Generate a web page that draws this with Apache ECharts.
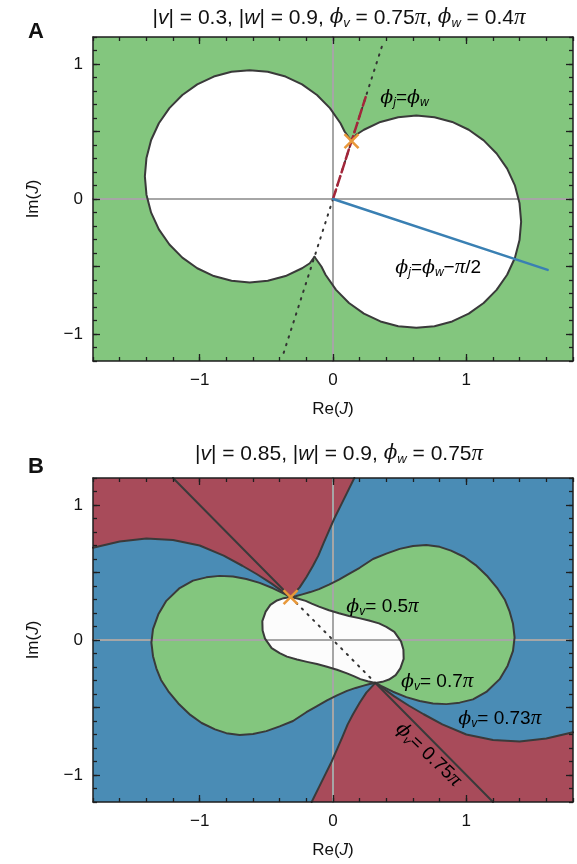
<!DOCTYPE html>
<html><head><meta charset="utf-8">
<script src="https://cdn.jsdelivr.net/npm/echarts@6/dist/echarts.min.js"></script>
<style>html,body{margin:0;padding:0;background:#fff}#c{width:577px;height:864px}</style>
</head><body><div id="c"></div>
<script>
// ---------- tick values ----------
const xMajor = [-1, 0, 1];
const xLabels = [-1, 0, 1];
const yMajor = [-1, -0.5, 0, 0.5, 1];
const yLabels = [-1, 0, 1];

// ---------- Panel A : white region = two lobes ----------
const aLeftLobe = [[0.139,0.428],[0.087,0.500],[0.056,0.561],[-0.023,0.673],[-0.120,0.770],[-0.232,0.849],[-0.356,0.907],[-0.489,0.942],[-0.625,0.954],[-0.761,0.942],[-0.894,0.907],[-1.018,0.849],[-1.130,0.770],[-1.227,0.673],[-1.306,0.561],[-1.364,0.437],[-1.399,0.304],[-1.411,0.168],[-1.399,0.032],[-1.364,-0.101],[-1.306,-0.225],[-1.227,-0.337],[-1.130,-0.434],[-1.018,-0.513],[-0.894,-0.571],[-0.761,-0.606],[-0.625,-0.618],[-0.489,-0.606],[-0.356,-0.571],[-0.232,-0.513],[-0.174,-0.476],[-0.139,-0.428]];
const aRightLobe = [[-0.139,-0.428],[-0.087,-0.500],[-0.056,-0.561],[0.023,-0.673],[0.120,-0.770],[0.232,-0.849],[0.356,-0.907],[0.489,-0.942],[0.625,-0.954],[0.761,-0.942],[0.894,-0.907],[1.018,-0.849],[1.130,-0.770],[1.227,-0.673],[1.306,-0.561],[1.364,-0.437],[1.399,-0.304],[1.411,-0.168],[1.399,-0.032],[1.364,0.101],[1.306,0.225],[1.227,0.337],[1.130,0.434],[1.018,0.513],[0.894,0.571],[0.761,0.606],[0.625,0.618],[0.489,0.606],[0.356,0.571],[0.232,0.513],[0.174,0.476],[0.139,0.428]];
const aCusp = [[0.139,0.428]];
const aDotted = [[-0.37,-1.14],[0.37,1.14]];
const aRedDash = [[0,0],[0.245,0.755]];
const aBlue = [[0,0],[1.61,-0.525]];

// ---------- Panel B ----------
const b73Left = [[-1.8,0.684],[-1.6,0.73],[-1.4,0.752],[-1.2,0.74],[-1.0,0.70],[-0.82,0.625],[-0.68,0.55],[-0.57,0.487],[-0.46,0.418],[-0.38,0.36],[-0.318,0.318]];
const b73Up = [[-0.318,0.318],[-0.25,0.39],[-0.2,0.465],[-0.15,0.55],[-0.11,0.625],[-0.07,0.72],[-0.03,0.81],[0.01,0.9],[0.055,0.99],[0.105,1.09],[0.16,1.2]];
const b73Right = [[1.8,-0.684],[1.6,-0.73],[1.4,-0.752],[1.2,-0.74],[1.0,-0.70],[0.82,-0.625],[0.68,-0.55],[0.57,-0.487],[0.46,-0.418],[0.38,-0.36],[0.318,-0.318]];
const b73Down = [[0.318,-0.318],[0.25,-0.39],[0.2,-0.465],[0.15,-0.55],[0.11,-0.625],[0.07,-0.72],[0.03,-0.81],[-0.01,-0.9],[-0.055,-0.99],[-0.105,-1.09],[-0.16,-1.2]];
const b70Left = [[-0.318,0.318],[-0.36,0.34],[-0.45,0.383],[-0.55,0.423],[-0.65,0.452],[-0.75,0.47],[-0.85,0.475],[-0.95,0.464],[-1.05,0.44],[-1.15,0.385],[-1.25,0.29],[-1.31,0.19],[-1.35,0.08],[-1.362,-0.02],[-1.35,-0.12],[-1.325,-0.21],[-1.29,-0.296],[-1.235,-0.38],[-1.16,-0.47],[-1.07,-0.555],[-0.985,-0.615],[-0.885,-0.662],[-0.8,-0.69],[-0.7,-0.703],[-0.6,-0.697],[-0.5,-0.675],[-0.4,-0.64],[-0.3,-0.6],[-0.2,-0.535],[-0.12,-0.49],[-0.045,-0.447],[0.03,-0.41],[0.105,-0.377],[0.17,-0.355],[0.23,-0.338],[0.275,-0.326],[0.318,-0.318]];
const b70Right = [[0.318,-0.318],[0.36,-0.34],[0.45,-0.383],[0.55,-0.423],[0.65,-0.452],[0.75,-0.47],[0.85,-0.475],[0.95,-0.464],[1.05,-0.44],[1.15,-0.385],[1.25,-0.29],[1.31,-0.19],[1.35,-0.08],[1.362,0.02],[1.35,0.12],[1.325,0.21],[1.29,0.296],[1.235,0.38],[1.16,0.47],[1.07,0.555],[0.985,0.615],[0.885,0.662],[0.8,0.69],[0.7,0.703],[0.6,0.697],[0.5,0.675],[0.4,0.64],[0.3,0.6],[0.2,0.535],[0.12,0.49],[0.045,0.447],[-0.03,0.41],[-0.105,0.377],[-0.17,0.355],[-0.23,0.338],[-0.275,0.326],[-0.318,0.318]];
const b50Left = [[-0.318,0.318],[-0.37,0.31],[-0.42,0.293],[-0.47,0.26],[-0.505,0.21],[-0.53,0.14],[-0.528,0.07],[-0.51,0.01],[-0.46,-0.06],[-0.40,-0.097],[-0.345,-0.123],[-0.27,-0.145],[-0.195,-0.162],[-0.12,-0.178],[-0.045,-0.198],[0.03,-0.22],[0.105,-0.247],[0.16,-0.27],[0.205,-0.29],[0.26,-0.305],[0.318,-0.318]];
const b50Right = [[0.318,-0.318],[0.37,-0.31],[0.42,-0.293],[0.47,-0.26],[0.505,-0.21],[0.53,-0.14],[0.528,-0.07],[0.51,-0.01],[0.46,0.06],[0.40,0.097],[0.345,0.123],[0.27,0.145],[0.195,0.162],[0.12,0.178],[0.045,0.198],[-0.03,0.22],[-0.105,0.247],[-0.16,0.27],[-0.205,0.29],[-0.26,0.305],[-0.318,0.318]];
const b75UpLine = [[-1.2,1.2],[-0.318,0.318]];
const b75DownLine = [[0.318,-0.318],[1.2,-1.2]];
const bDotted = [[-0.318,0.318],[0.318,-0.318]];
const bCusp = [[-0.318,0.318]];

// ---------- styles ----------
const FONT = 'Liberation Sans, Arial, sans-serif';
const GREEN = '#83c67e', RED = '#a84b5a', BLUE = '#4a8cb5', EDGE = '#3a3a3a', AXC = '#1e1e1e';
const W = 'normal';
const RICH = {
  n: {fontFamily: FONT, fontSize: 21, fontWeight: W, color: '#111'},
  i: {fontFamily: FONT, fontStyle: 'italic', fontWeight: W, fontSize: 21, color: '#111'},
  g: {fontFamily: 'DejaVu Serif', fontStyle: 'italic', fontWeight: W, fontSize: 20, color: '#111'},
  p: {fontFamily: 'Liberation Serif', fontStyle: 'italic', fontWeight: W, fontSize: 23, color: '#111'},
  s: {fontFamily: FONT, fontStyle: 'italic', fontWeight: W, fontSize: 13, color: '#111', padding: [11, 0, 0, 0]},
  N: {fontFamily: FONT, fontSize: 19, fontWeight: W, color: '#111'},
  G: {fontFamily: 'DejaVu Serif', fontStyle: 'italic', fontWeight: W, fontSize: 19, color: '#111'},
  P: {fontFamily: 'Liberation Serif', fontStyle: 'italic', fontWeight: W, fontSize: 21, color: '#111'},
  S: {fontFamily: FONT, fontStyle: 'italic', fontWeight: W, fontSize: 12, color: '#111', padding: [10, 0, 0, 0]},
  I: {fontFamily: FONT, fontStyle: 'italic', fontWeight: W, fontSize: 17, color: '#111'},
  L: {fontFamily: FONT, fontSize: 17, fontWeight: W, color: '#111'}
};
const fmt = v => (v < 0 ? '\u2212' + (-v) : String(v));
const tickStyle = {color: AXC, width: 1.3};
const hideLine = {show: false, onZero: false};

function xAxes(g, name) {
  const base = {type: 'value', gridIndex: g, min: -1.8, max: 1.8, splitLine: {show: false}, z: 10};
  return [
    Object.assign({}, base, {position: 'bottom',
      axisLine: {show: true, onZero: false, lineStyle: {color: AXC, width: 1.5}},
      axisTick: {show: true, inside: true, length: 7, customValues: xMajor, lineStyle: tickStyle},
      axisLabel: {show: true, customValues: xLabels, formatter: fmt, fontSize: 17, color: '#111', fontFamily: FONT, margin: 11},
      name: name, nameLocation: 'middle', nameGap: 40, nameTextStyle: {rich: RICH}}),
    Object.assign({}, base, {position: 'bottom', interval: 0.2,
      axisLine: hideLine, axisTick: {show: true, inside: true, length: 4, lineStyle: tickStyle}, axisLabel: {show: false}}),
    Object.assign({}, base, {position: 'top',
      axisLine: {show: true, onZero: false, lineStyle: {color: AXC, width: 1.5}},
      axisTick: {show: true, inside: true, length: 7, customValues: xMajor, lineStyle: tickStyle}, axisLabel: {show: false}}),
    Object.assign({}, base, {position: 'top', interval: 0.2,
      axisLine: hideLine, axisTick: {show: true, inside: true, length: 4, lineStyle: tickStyle}, axisLabel: {show: false}})
  ];
}
function yAxes(g, name) {
  const base = {type: 'value', gridIndex: g, min: -1.2, max: 1.2, splitLine: {show: false}, z: 10};
  return [
    Object.assign({}, base, {position: 'left',
      axisLine: {show: true, onZero: false, lineStyle: {color: AXC, width: 1.5}},
      axisTick: {show: true, inside: true, length: 7, customValues: yMajor, lineStyle: tickStyle},
      axisLabel: {show: true, customValues: yLabels, formatter: fmt, fontSize: 17, color: '#111', fontFamily: FONT, margin: 10},
      name: name, nameLocation: 'middle', nameRotate: 90, nameGap: 51, nameTextStyle: {rich: RICH}}),
    Object.assign({}, base, {position: 'left', interval: 0.1,
      axisLine: hideLine, axisTick: {show: true, inside: true, length: 4, lineStyle: tickStyle}, axisLabel: {show: false}}),
    Object.assign({}, base, {position: 'right',
      axisLine: {show: true, onZero: false, lineStyle: {color: AXC, width: 1.5}},
      axisTick: {show: true, inside: true, length: 7, customValues: yMajor, lineStyle: tickStyle}, axisLabel: {show: false}}),
    Object.assign({}, base, {position: 'right', interval: 0.1,
      axisLine: hideLine, axisTick: {show: true, inside: true, length: 4, lineStyle: tickStyle}, axisLabel: {show: false}})
  ];
}

function poly(ax, pts, fill, z) {
  return {type: 'custom', xAxisIndex: ax, yAxisIndex: ax, clip: true, silent: true, z: z,
    data: [pts[0]],
    renderItem: (params, api) => ({type: 'polygon', shape: {points: pts.map(p => api.coord(p))}, style: {fill: fill}})};
}
function line(ax, pts, color, width, type, z) {
  return {type: 'line', xAxisIndex: ax, yAxisIndex: ax, data: pts, showSymbol: false, symbol: 'none', silent: true,
    z: z, animation: false,
    lineStyle: {color: color, width: width, type: type || 'solid', cap: 'round', join: 'round'}};
}
function cross(ax, pts) {
  return {type: 'custom', xAxisIndex: ax, yAxisIndex: ax, silent: true, z: 8, data: pts,
    renderItem: (params, api) => {
      const c = api.coord([api.value(0), api.value(1)]), d = 7;
      const st = {stroke: '#e8983a', lineWidth: 2.5};
      return {type: 'group', children: [
        {type: 'line', shape: {x1: c[0]-d, y1: c[1]-d, x2: c[0]+d, y2: c[1]+d}, style: st},
        {type: 'line', shape: {x1: c[0]-d, y1: c[1]+d, x2: c[0]+d, y2: c[1]-d}, style: st}]};
    }};
}
function texts(ax, items) {
  return {type: 'custom', xAxisIndex: ax, yAxisIndex: ax, silent: true, z: 9, data: items.map(t => t.pos),
    renderItem: (params, api) => {
      const t = items[params.dataIndex];
      const c = api.coord(t.pos);
      return {type: 'text', x: c[0], y: c[1], rotation: t.rot || 0,
        style: {text: t.text, rich: RICH, align: t.align || 'left', verticalAlign: 'middle'}};
    }};
}

const chart = echarts.init(document.getElementById('c'), null, {renderer: 'canvas'});
const axisLinesA = [line(0, [[-1.8,0],[1.8,0]], '#a6a6a6', 2, 'solid', 3), line(0, [[0,-1.2],[0,1.2]], '#a6a6a6', 2, 'solid', 3)];
const axisLinesB = [line(4, [[-1.8,0],[1.8,0]], '#a6a6a6', 2, 'solid', 3), line(4, [[0,-1.2],[0,1.2]], '#a6a6a6', 2, 'solid', 3)];
const titleStyle = {rich: RICH, fontWeight: 'normal'};

chart.setOption({
  animation: false,
  title: [
    {text: 'A', left: 23, top: 16, textStyle: {fontFamily: FONT, fontSize: 22, fontWeight: 'bold', color: '#111'}},
    {text: '{n||}{i|v}{n|| = 0.3, |}{i|w}{n|| = 0.9, }{g|\u03d5}{s|v}{n| = 0.75}{p|\u03c0}{n|, }{g|\u03d5}{s|w}{n| = 0.4}{p|\u03c0}',
      left: 334, textAlign: 'center', top: 1, textStyle: titleStyle},
    {text: 'B', left: 23, top: 451, textStyle: {fontFamily: FONT, fontSize: 22, fontWeight: 'bold', color: '#111'}},
    {text: '{n||}{i|v}{n|| = 0.85, |}{i|w}{n|| = 0.9, }{g|\u03d5}{s|w}{n| = 0.75}{p|\u03c0}',
      left: 334, textAlign: 'center', top: 437, textStyle: titleStyle}
  ],
  grid: [
    {left: 93, top: 37, width: 480, height: 324, show: true, backgroundColor: GREEN, borderWidth: 0},
    {left: 93, top: 478, width: 480, height: 324, show: true, backgroundColor: BLUE, borderWidth: 0}
  ],
  xAxis: xAxes(0, '{L|Re(}{I|J}{L|)}').concat(xAxes(1, '{L|Re(}{I|J}{L|)}')),
  yAxis: yAxes(0, '{L|Im(}{I|J}{L|)}').concat(yAxes(1, '{L|Im(}{I|J}{L|)}')),
  series: [
    // Panel A
    poly(0, aLeftLobe.concat(aRightLobe.slice(1)), '#ffffff', 1),
    ...axisLinesA,
    line(0, aLeftLobe, EDGE, 2, 'solid', 4),
    line(0, aRightLobe, EDGE, 2, 'solid', 4),
    line(0, aDotted, '#333333', 2, [1.5, 6.5], 5),
    line(0, aRedDash, '#a3263a', 2.5, [10, 4], 6),
    line(0, aBlue, '#3a80b3', 2.5, 'solid', 6),
    cross(0, aCusp),
    texts(0, [
      {pos: [0.355, 0.75], text: '{G|\u03d5}{S|j}{N|=}{G|\u03d5}{S|w}'},
      {pos: [0.467, -0.51], text: '{G|\u03d5}{S|j}{N|=}{G|\u03d5}{S|w}{N|\u2212}{P|\u03c0}{N|/2}'}
    ]),
    // Panel B
    poly(4, b73Left.concat(b73Up.slice(1), [[-1.8,1.2]]), RED, 1),
    poly(4, b73Right.concat(b73Down.slice(1), [[1.8,-1.2]]), RED, 1),
    poly(4, b70Left.concat(b70Right.slice(1)), GREEN, 2),
    poly(4, b50Left.concat(b50Right.slice(1)), '#fcfcfc', 2.5),
    ...axisLinesB,
    line(4, b73Left, EDGE, 2, 'solid', 4),
    line(4, b73Up, EDGE, 2, 'solid', 4),
    line(4, b73Right, EDGE, 2, 'solid', 4),
    line(4, b73Down, EDGE, 2, 'solid', 4),
    line(4, b70Left, EDGE, 2, 'solid', 4),
    line(4, b70Right, EDGE, 2, 'solid', 4),
    line(4, b50Left, EDGE, 2, 'solid', 4),
    line(4, b50Right, EDGE, 2, 'solid', 4),
    line(4, b75UpLine, EDGE, 2, 'solid', 4),
    line(4, b75DownLine, EDGE, 2, 'solid', 4),
    line(4, bDotted, '#333333', 2, [1.5, 6.5], 5),
    cross(4, bCusp),
    texts(4, [
      {pos: [0.10, 0.245], text: '{G|\u03d5}{S|v}{N|= 0.5}{P|\u03c0}'},
      {pos: [0.51, -0.31], text: '{G|\u03d5}{S|v}{N|= 0.7}{P|\u03c0}'},
      {pos: [0.94, -0.585], text: '{G|\u03d5}{S|v}{N|= 0.73}{P|\u03c0}'},
      {pos: [0.715, -0.85], text: '{G|\u03d5}{S|v}{N|= 0.75}{P|\u03c0}', align: 'center', rot: -Math.PI / 4 * 0.97}
    ])
  ]
});
</script></body></html>
